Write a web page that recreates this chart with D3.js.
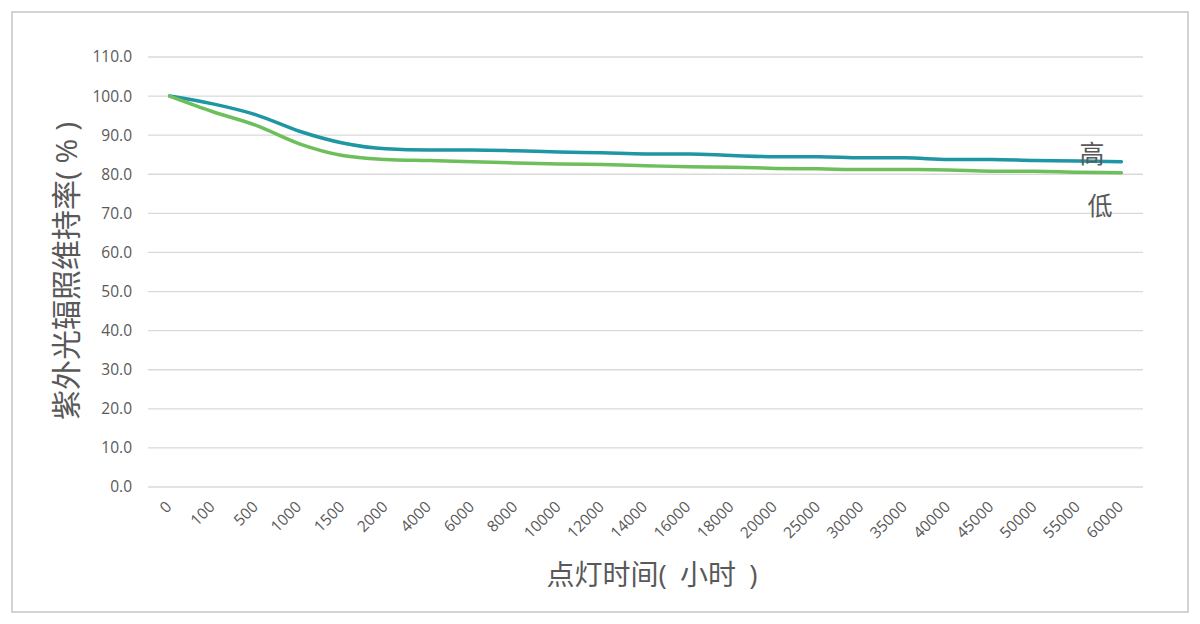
<!DOCTYPE html>
<html><head><meta charset="utf-8">
<script src="https://cdn.jsdelivr.net/npm/d3@7"></script>
<style>body{margin:0;background:#fff;}svg{display:block;}</style>
</head><body>
<svg id="c" width="1200" height="624"></svg>
<script>
const categories = ["0","100","500","1000","1500","2000","4000","6000","8000","10000","12000","14000","16000","18000","20000","25000","30000","35000","40000","45000","50000","55000","60000"];
const highValues = [100,98.0,95.2,91.0,88.0,86.5,86.2,86.2,86.0,85.7,85.5,85.2,85.2,84.8,84.5,84.5,84.2,84.2,83.8,83.8,83.5,83.4,83.2];
const lowValues  = [100,96.0,92.5,87.8,84.8,83.8,83.5,83.2,82.9,82.6,82.5,82.2,81.9,81.8,81.5,81.4,81.2,81.2,81.1,80.8,80.8,80.5,80.4];
const yTicks = [0,10,20,30,40,50,60,70,80,90,100,110];
const seriesLabels = ["高","低"];
const xTitle = "点灯时间( 小时 )";
const yTitle = "紫外光辐照维持率( % )";

(function(){
const svg = d3.select("#c");
const font = "'Open Sans','Noto Sans CJK SC',sans-serif";
svg.append("rect").attr("x",12).attr("y",12).attr("width",1176).attr("height",600)
  .attr("fill","#fff").attr("stroke","#d3d3d3").attr("stroke-width",2);

const pL=148, pR=1143, pT=57, pB=487;
const x = d3.scaleBand().domain(categories).range([pL,pR]);
const y = d3.scaleLinear().domain([0,110]).range([pB,pT]);

svg.append("g").selectAll("line").data(yTicks).join("line")
  .attr("x1",pL).attr("x2",pR).attr("y1",d=>y(d)).attr("y2",d=>y(d))
  .attr("stroke","#d9d9d9").attr("stroke-width",1.3);

svg.append("g").selectAll("text").data(yTicks).join("text")
  .attr("x",132).attr("y",d=>y(d)).attr("dy","0.35em").attr("text-anchor","end")
  .attr("font-family",font).attr("font-size",15.5).attr("fill","#595959")
  .text(d=>d.toFixed(1));

svg.append("g").selectAll("text").data(categories).join("text")
  .attr("transform",d=>`translate(${x(d)+x.bandwidth()/2-1},${pB+17}) rotate(-45)`)
  .attr("text-anchor","end").attr("dy","0.35em")
  .attr("font-family",font).attr("font-size",15.5).attr("fill","#595959")
  .text(d=>d);

const line = d3.line().x((d,i)=>x(categories[i])+x.bandwidth()/2).y(d=>y(d)).curve(d3.curveMonotoneX);
svg.append("path").datum(highValues).attr("d",line).attr("fill","none")
  .attr("stroke","#1f96a3").attr("stroke-width",3.5).attr("stroke-linejoin","round").attr("stroke-linecap","round");
svg.append("path").datum(lowValues).attr("d",line).attr("fill","none")
  .attr("stroke","#6cbf5b").attr("stroke-width",3.5).attr("stroke-linejoin","round").attr("stroke-linecap","round");

svg.append("text").attr("x",1092).attr("y",154).attr("dy","0.35em").attr("text-anchor","middle")
  .attr("font-family",font).attr("font-size",25).attr("fill","#595959").text(seriesLabels[0]);
svg.append("text").attr("x",1100).attr("y",206).attr("dy","0.35em").attr("text-anchor","middle")
  .attr("font-family",font).attr("font-size",25).attr("fill","#595959").text(seriesLabels[1]);

svg.append("text").attr("x",652).attr("y",575).attr("dy","0.35em").attr("text-anchor","middle")
  .attr("font-family",font).attr("font-size",28).attr("word-spacing",6).attr("fill","#595959").text(xTitle);
svg.append("text").attr("transform","translate(66,271) rotate(-90)").attr("dy","0.35em").attr("text-anchor","middle")
  .attr("font-family",font).attr("font-size",30).attr("fill","#595959").text(yTitle);
})();
</script>
</body></html>
